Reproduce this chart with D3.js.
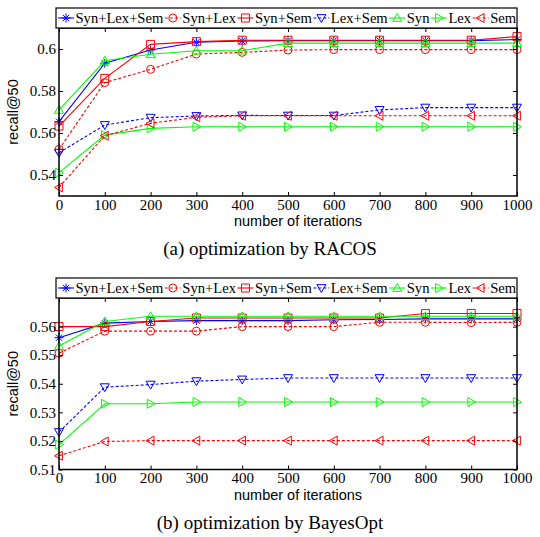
<!DOCTYPE html>
<html>
<head>
<meta charset="utf-8">
<script src="https://cdn.jsdelivr.net/npm/d3@7"></script>
<style>
  body { margin: 0; background: #fff; }
  svg { display: block; }
</style>
</head>
<body>
<svg id="chart" width="540" height="537"></svg>
<script>
const iterations = [0, 100, 200, 300, 400, 500, 600, 700, 800, 900, 1000];
const seriesNames = ['Syn+Lex+Sem', 'Syn+Lex', 'Syn+Sem', 'Lex+Sem', 'Syn', 'Lex', 'Sem'];

// (a) RACOS
const racosSynLexSem = [0.5654, 0.5932, 0.5995, 0.6032, 0.6038, 0.6040, 0.6040, 0.6040, 0.6040, 0.6040, 0.6045];
const racosSynLex = [0.5522, 0.5840, 0.5903, 0.5976, 0.5984, 0.5995, 0.5997, 0.5997, 0.5997, 0.5997, 0.5997];
const racosSynSem = [0.5633, 0.5860, 0.6022, 0.6035, 0.6042, 0.6042, 0.6042, 0.6042, 0.6042, 0.6042, 0.6059];
const racosLexSem = [0.5506, 0.5638, 0.5673, 0.5681, 0.5684, 0.5683, 0.5683, 0.5710, 0.5721, 0.5721, 0.5721];
const racosSyn = [0.5710, 0.5944, 0.5975, 0.5992, 0.5992, 0.6028, 0.6028, 0.6028, 0.6028, 0.6028, 0.6028];
const racosLex = [0.5411, 0.5590, 0.5622, 0.5630, 0.5630, 0.5630, 0.5630, 0.5630, 0.5630, 0.5630, 0.5630];
const racosSem = [0.5341, 0.5587, 0.5646, 0.5675, 0.5682, 0.5682, 0.5682, 0.5682, 0.5682, 0.5682, 0.5682];

// (b) BayesOpt
const bayesSynLexSem = [0.5561, 0.5612, 0.5618, 0.5621, 0.5621, 0.5621, 0.5624, 0.5625, 0.5627, 0.5627, 0.5627];
const bayesSynLex = [0.5507, 0.5584, 0.5584, 0.5584, 0.5600, 0.5600, 0.5600, 0.5615, 0.5615, 0.5614, 0.5615];
const bayesSynSem = [0.5600, 0.5600, 0.5618, 0.5630, 0.5630, 0.5630, 0.5630, 0.5630, 0.5646, 0.5646, 0.5646];
const bayesLexSem = [0.5231, 0.5388, 0.5397, 0.5409, 0.5415, 0.5420, 0.5420, 0.5420, 0.5420, 0.5420, 0.5420];
const bayesSyn = [0.5532, 0.5618, 0.5636, 0.5636, 0.5636, 0.5636, 0.5636, 0.5636, 0.5636, 0.5636, 0.5636];
const bayesLex = [0.5187, 0.5330, 0.5330, 0.5336, 0.5336, 0.5336, 0.5336, 0.5336, 0.5336, 0.5336, 0.5336];
const bayesSem = [0.5148, 0.5198, 0.5201, 0.5201, 0.5201, 0.5201, 0.5201, 0.5201, 0.5201, 0.5201, 0.5201];

const racosTicks = [0.54, 0.56, 0.58, 0.6];
const bayesTicks = [0.51, 0.52, 0.53, 0.54, 0.55, 0.56];

const styles = [
  { color: '#0000ff', dash: null, marker: 'star' },
  { color: '#ff0000', dash: '3,2', marker: 'circle' },
  { color: '#ff0000', dash: null, marker: 'square' },
  { color: '#0000ff', dash: '3,2', marker: 'down' },
  { color: '#00ff00', dash: null, marker: 'up' },
  { color: '#00ff00', dash: null, marker: 'right' },
  { color: '#ff0000', dash: '3,2', marker: 'left' }
];

const serif = '"Liberation Serif", "Times New Roman", serif';
const sans = '"Liberation Sans", Arial, sans-serif';

const svg = d3.select('#chart');

const markerPath = (type) => {
  const s = 4.5;
  switch (type) {
    case 'star':
      return `M${-s},0L${s},0M0,${-s}L0,${s}M${-s * 0.7},${-s * 0.7}L${s * 0.7},${s * 0.7}M${-s * 0.7},${s * 0.7}L${s * 0.7},${-s * 0.7}`;
    case 'square':
      return `M-4,-4H4V4H-4Z`;
    case 'up':
      return `M0,${-s}L${s},${s * 0.75}L${-s},${s * 0.75}Z`;
    case 'down':
      return `M0,${s}L${s},${-s * 0.75}L${-s},${-s * 0.75}Z`;
    case 'right':
      return `M${s},0L${-s * 0.75},${s}L${-s * 0.75},${-s}Z`;
    case 'left':
      return `M${-s},0L${s * 0.75},${s}L${s * 0.75},${-s}Z`;
    default:
      return null;
  }
};

const drawMarker = (g, type, color) => {
  if (type === 'circle') {
    g.append('circle').attr('r', 4).attr('fill', 'none').attr('stroke', color).attr('stroke-width', 1);
  } else {
    g.append('path').attr('d', markerPath(type)).attr('fill', 'none')
      .attr('stroke', color).attr('stroke-width', 1);
  }
};

const drawPanel = (cfg) => {
  const x = d3.scaleLinear([0, 1000], [cfg.left, cfg.right]);
  const y = d3.scaleLinear(cfg.domain, [cfg.bottom, cfg.top]);
  const g = svg.append('g');

  // series
  cfg.series.forEach((vals, i) => {
    const st = styles[i];
    const line = d3.line().x((d, j) => x(iterations[j])).y((d) => y(d));
    g.append('path')
      .attr('d', line(vals))
      .attr('fill', 'none')
      .attr('stroke', st.color)
      .attr('stroke-width', 1.1)
      .attr('stroke-dasharray', st.dash);
    vals.forEach((v, j) => {
      const m = g.append('g').attr('transform', `translate(${x(iterations[j])},${y(v)})`);
      drawMarker(m, st.marker, st.color);
    });
  });

  // axes with inward ticks
  const tickLen = 4;
  const axisB = g.append('g').attr('transform', `translate(0,${cfg.bottom})`)
    .call(d3.axisBottom(x).tickValues(iterations).tickSizeInner(-tickLen).tickSizeOuter(0)
      .tickPadding(3).tickFormat(d3.format('d')));
  const axisT = g.append('g').attr('transform', `translate(0,${cfg.top})`)
    .call(d3.axisTop(x).tickValues(iterations).tickSizeInner(-tickLen).tickSizeOuter(0).tickFormat(''));
  const axisL = g.append('g').attr('transform', `translate(${cfg.left},0)`)
    .call(d3.axisLeft(y).tickValues(cfg.ticks).tickSizeInner(-tickLen).tickSizeOuter(0).tickPadding(3)
      .tickFormat(d3.format('~g')));
  const axisR = g.append('g').attr('transform', `translate(${cfg.right},0)`)
    .call(d3.axisRight(y).tickValues(cfg.ticks).tickSizeInner(-tickLen).tickSizeOuter(0).tickFormat(''));
  [axisB, axisT, axisL, axisR].forEach((a) => {
    a.attr('font-family', null).attr('font-size', null);
    a.select('.domain').remove();
    a.selectAll('line').attr('stroke', '#000').attr('stroke-width', 1);
    a.selectAll('text').attr('fill', '#000').attr('font-family', serif).attr('font-size', '15px');
  });
  axisB.selectAll('text').attr('dy', '0.71em');

  g.append('rect')
    .attr('x', cfg.left).attr('y', cfg.top)
    .attr('width', cfg.right - cfg.left).attr('height', cfg.bottom - cfg.top)
    .attr('fill', 'none').attr('stroke', '#000').attr('stroke-width', 1.5);

  // labels
  g.append('text')
    .attr('x', (cfg.left + cfg.right) / 2 + 10).attr('y', cfg.bottom + 30)
    .attr('text-anchor', 'middle')
    .attr('font-family', sans).attr('font-size', '14.5px')
    .text('number of iterations');
  g.append('text')
    .attr('transform', `translate(18,${(cfg.top + cfg.bottom) / 2}) rotate(-90)`)
    .attr('text-anchor', 'middle')
    .attr('font-family', sans).attr('font-size', '14.5px')
    .text('recall@50');
  g.append('text')
    .attr('x', 270).attr('y', cfg.bottom + 59)
    .attr('text-anchor', 'middle')
    .attr('font-family', serif).attr('font-size', '19px')
    .text(cfg.caption);

  // legend
  const legTop = cfg.top - 20;
  const leg = g.append('g');
  leg.append('rect')
    .attr('x', 56).attr('y', legTop).attr('width', 461).attr('height', 20)
    .attr('fill', '#fff').attr('stroke', '#000').attr('stroke-width', 1.2);
  let cx = 58;
  seriesNames.forEach((name, i) => {
    const st = styles[i];
    const cy = legTop + 10;
    leg.append('line')
      .attr('x1', cx).attr('x2', cx + 16).attr('y1', cy).attr('y2', cy)
      .attr('stroke', st.color).attr('stroke-width', 1.1).attr('stroke-dasharray', st.dash);
    drawMarker(leg.append('g').attr('transform', `translate(${cx + 8},${cy})`), st.marker, st.color);
    const t = leg.append('text')
      .attr('x', cx + 17.5).attr('y', cy).attr('dy', '0.34em')
      .attr('font-family', serif).attr('font-size', '14.6px')
      .text(name);
    cx += 17.5 + t.node().getComputedTextLength() + 1.5;
  });
};

drawPanel({
  left: 59, right: 517, top: 28, bottom: 196,
  domain: [0.53, 0.61], ticks: racosTicks,
  caption: '(a)  optimization by RACOS',
  series: [racosSynLexSem, racosSynLex, racosSynSem, racosLexSem, racosSyn, racosLex, racosSem]
});

drawPanel({
  left: 59, right: 517, top: 298, bottom: 469.5,
  domain: [0.51, 0.57], ticks: bayesTicks,
  caption: '(b)  optimization by BayesOpt',
  series: [bayesSynLexSem, bayesSynLex, bayesSynSem, bayesLexSem, bayesSyn, bayesLex, bayesSem]
});
</script>
</body>
</html>
